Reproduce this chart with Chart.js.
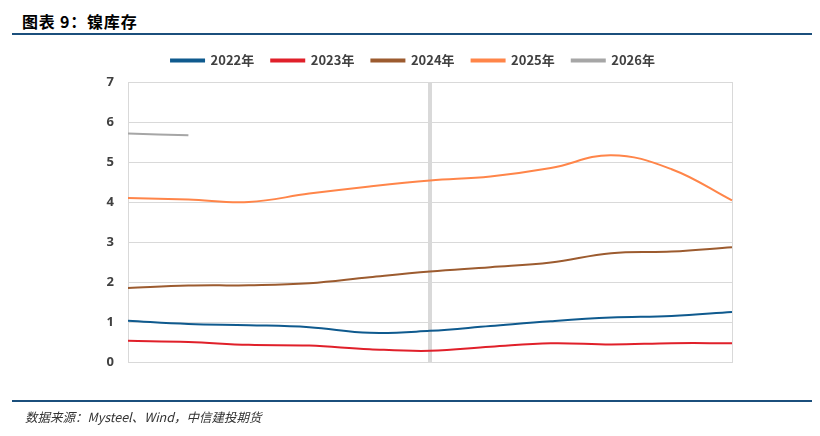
<!DOCTYPE html>
<html><head><meta charset="utf-8">
<script src="https://cdn.jsdelivr.net/npm/chart.js@4"></script>
<style>
html,body{margin:0;padding:0;background:#fff;}
#wrap{position:relative;width:820px;height:436px;overflow:hidden;}
#title{position:absolute;left:22px;top:9px;font:bold 16px "Noto Sans CJK SC","Noto Sans",sans-serif;color:#000;letter-spacing:0.8px;}
.rule{position:absolute;left:12px;width:800px;height:2px;background:#1b4f7c;}
#foot{position:absolute;left:25px;top:407px;font:italic 12.5px "Noto Sans CJK SC","DejaVu Serif",serif;color:#333;}
canvas{position:absolute;left:0;top:0;}
</style></head>
<body>
<div id="wrap">
<div id="title">图表 9：镍库存</div>
<div class="rule" style="top:33px"></div>
<canvas id="c" width="820" height="436"></canvas>
<div class="rule" style="top:400px"></div>
<div id="foot">数据来源：Mysteel、Wind，中信建投期货</div>
</div>
<script>
const categories = ["1","2","3","4","5","6","7","8","9","10","11"];
const seriesNames = ["2022年","2023年","2024年","2025年","2026年"];
const s2022 = [1.03, 0.95, 0.92, 0.87, 0.73, 0.78, 0.90, 1.02, 1.11, 1.15, 1.25];
const s2023 = [0.53, 0.50, 0.43, 0.41, 0.32, 0.28, 0.38, 0.47, 0.44, 0.47, 0.47];
const s2024 = [1.85, 1.91, 1.92, 1.97, 2.12, 2.26, 2.37, 2.49, 2.72, 2.76, 2.87];
const s2025 = [4.10, 4.06, 4.00, 4.21, 4.39, 4.54, 4.64, 4.85, 5.17, 4.82, 4.04];
const s2026 = [5.71, 5.67, null, null, null, null, null, null, null, null, null];
const yTicks = [0,1,2,3,4,5,6,7];
const markerIndex = 5;
const colors = ["#0f5a8e","#e0202a","#9c5b2f","#ff8549","#a6a6a6"];

const vbar = {
  id:'vbar',
  beforeInit(chart){
    const lg = chart.legend;
    if (lg) {
      const fit = lg.fit;
      lg.fit = function(){ fit.call(this); this.height += 5; };
    }
  },
  beforeDatasetsDraw(chart){
    const {ctx, chartArea:a, scales:{x}} = chart;
    const px = x.getPixelForValue(markerIndex);
    ctx.save();
    ctx.fillStyle = '#d9d9d9';
    ctx.fillRect(px-2, a.top, 4, a.bottom-a.top);
    ctx.strokeStyle = '#d9d9d9';
    ctx.lineWidth = 1;
    ctx.strokeRect(Math.round(a.left)+0.5, Math.round(a.top)+0.5, Math.round(a.right-a.left), Math.round(a.bottom-a.top));
    ctx.restore();
  }
};

const data = [s2022,s2023,s2024,s2025,s2026];
new Chart(document.getElementById('c'), {
  type:'line',
  data:{
    labels:categories,
    datasets:data.map((d,i)=>({
      label:seriesNames[i], data:d, borderColor:colors[i], backgroundColor:colors[i],
      borderWidth:2, pointRadius:0, tension:0.4, fill:false, spanGaps:false
    }))
  },
  options:{
    responsive:false, animation:false, devicePixelRatio:1,
    layout:{padding:{top:37,left:94,right:88,bottom:66}},
    plugins:{
      legend:{position:'top', labels:{boxWidth:33, boxHeight:2, padding:17, color:'#404040',
        font:{family:'"Noto Sans CJK SC","Noto Sans",sans-serif', size:13, weight:'bold'}}},
      tooltip:{enabled:false}
    },
    scales:{
      x:{offset:false, ticks:{display:false}, grid:{display:false}, border:{display:true,color:'#d9d9d9'}},
      y:{min:0,max:7, afterFit(s){s.width=34;},
        afterBuildTicks(s){s.ticks=yTicks.map(v=>({value:v}));},
        ticks:{stepSize:1, padding:14, color:'#404040', font:{family:'"Open Sans","Noto Sans",sans-serif', size:13, weight:'bold'}},
        grid:{color:'#d9d9d9', drawTicks:false}, border:{display:true,color:'#d9d9d9'}}
    }
  },
  plugins:[vbar]
});
</script>
</body></html>
